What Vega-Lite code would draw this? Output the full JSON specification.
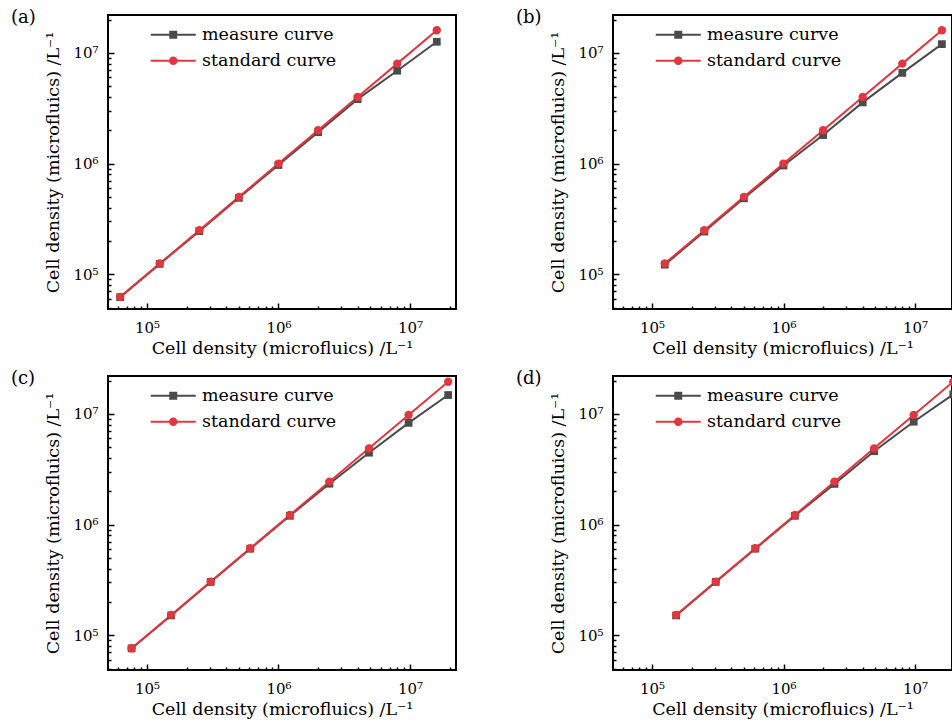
{
  "$schema": "https://vega.github.io/schema/vega-lite/v6.json",
  "padding": {"left": 10, "top": 7, "right": 0, "bottom": 0},
  "background": "white",
  "config": {
    "view": {"stroke": "black", "strokeWidth": 2},
    "font": "DejaVu Serif",
    "axis": {
      "domain": false, "grid": false, "tickColor": "black", "tickWidth": 1.5,
      "labelFont": "DejaVu Serif", "labelFontSize": 15, "labelColor": "black",
      "titleFont": "DejaVu Serif", "titleFontSize": 17.5, "titleFontWeight": "normal", "titleColor": "black",
      "labelOverlap": false, "labelFlush": false
    },
    "axisX": {"labelPadding": 17, "titlePadding": 1},
    "axisY": {"labelPadding": 16, "titlePadding": 10},
    "legend": {
      "orient": "none", "legendX": 45, "legendY": 11, "padding": 0, "title": null,
      "labelFont": "DejaVu Serif", "labelFontSize": 17.5, "labelColor": "black",
      "symbolSize": 100, "symbolStrokeWidth": 2, "symbolOffset": 11.5, "labelOffset": 20, "rowPadding": 7
    },
    "title": {"font": "DejaVu Serif", "fontSize": 18, "fontWeight": "normal", "color": "black", "anchor": "start", "frame": "group", "baseline": "middle", "offset": 0, "dx": -97, "dy": 18}
  },
  "datasets": {
    "a": [
      {"x": 62500, "y": 62000, "series": "measure curve"},
      {"x": 125000, "y": 124000, "series": "measure curve"},
      {"x": 250000, "y": 245000, "series": "measure curve"},
      {"x": 500000, "y": 490000, "series": "measure curve"},
      {"x": 1000000, "y": 970000, "series": "measure curve"},
      {"x": 2000000, "y": 1920000, "series": "measure curve"},
      {"x": 4000000, "y": 3820000, "series": "measure curve"},
      {"x": 8000000, "y": 6900000, "series": "measure curve"},
      {"x": 16000000, "y": 12600000, "series": "measure curve"},
      {"x": 62500, "y": 62500, "series": "standard curve"},
      {"x": 125000, "y": 125000, "series": "standard curve"},
      {"x": 250000, "y": 250000, "series": "standard curve"},
      {"x": 500000, "y": 500000, "series": "standard curve"},
      {"x": 1000000, "y": 1000000, "series": "standard curve"},
      {"x": 2000000, "y": 2000000, "series": "standard curve"},
      {"x": 4000000, "y": 4000000, "series": "standard curve"},
      {"x": 8000000, "y": 8000000, "series": "standard curve"},
      {"x": 16000000, "y": 16000000, "series": "standard curve"}
    ],
    "b": [
      {"x": 125000, "y": 122000, "series": "measure curve"},
      {"x": 250000, "y": 243000, "series": "measure curve"},
      {"x": 500000, "y": 485000, "series": "measure curve"},
      {"x": 1000000, "y": 960000, "series": "measure curve"},
      {"x": 2000000, "y": 1810000, "series": "measure curve"},
      {"x": 4000000, "y": 3570000, "series": "measure curve"},
      {"x": 8000000, "y": 6600000, "series": "measure curve"},
      {"x": 16000000, "y": 12000000, "series": "measure curve"},
      {"x": 125000, "y": 125000, "series": "standard curve"},
      {"x": 250000, "y": 250000, "series": "standard curve"},
      {"x": 500000, "y": 500000, "series": "standard curve"},
      {"x": 1000000, "y": 1000000, "series": "standard curve"},
      {"x": 2000000, "y": 2000000, "series": "standard curve"},
      {"x": 4000000, "y": 4000000, "series": "standard curve"},
      {"x": 8000000, "y": 8000000, "series": "standard curve"},
      {"x": 16000000, "y": 16000000, "series": "standard curve"}
    ],
    "c": [
      {"x": 76300, "y": 76000, "series": "measure curve"},
      {"x": 152600, "y": 151000, "series": "measure curve"},
      {"x": 305200, "y": 303000, "series": "measure curve"},
      {"x": 610400, "y": 605000, "series": "measure curve"},
      {"x": 1220700, "y": 1200000, "series": "measure curve"},
      {"x": 2441400, "y": 2340000, "series": "measure curve"},
      {"x": 4882800, "y": 4460000, "series": "measure curve"},
      {"x": 9765600, "y": 8300000, "series": "measure curve"},
      {"x": 19531000, "y": 14800000, "series": "measure curve"},
      {"x": 76300, "y": 76300, "series": "standard curve"},
      {"x": 152600, "y": 152600, "series": "standard curve"},
      {"x": 305200, "y": 305200, "series": "standard curve"},
      {"x": 610400, "y": 610400, "series": "standard curve"},
      {"x": 1220700, "y": 1220700, "series": "standard curve"},
      {"x": 2441400, "y": 2441400, "series": "standard curve"},
      {"x": 4882800, "y": 4882800, "series": "standard curve"},
      {"x": 9765600, "y": 9765600, "series": "standard curve"},
      {"x": 19531000, "y": 19531000, "series": "standard curve"}
    ],
    "d": [
      {"x": 152600, "y": 151000, "series": "measure curve"},
      {"x": 305200, "y": 303000, "series": "measure curve"},
      {"x": 610400, "y": 606000, "series": "measure curve"},
      {"x": 1220700, "y": 1200000, "series": "measure curve"},
      {"x": 2441400, "y": 2330000, "series": "measure curve"},
      {"x": 4882800, "y": 4600000, "series": "measure curve"},
      {"x": 9765600, "y": 8500000, "series": "measure curve"},
      {"x": 19531000, "y": 15000000, "series": "measure curve"},
      {"x": 152600, "y": 152600, "series": "standard curve"},
      {"x": 305200, "y": 305200, "series": "standard curve"},
      {"x": 610400, "y": 610400, "series": "standard curve"},
      {"x": 1220700, "y": 1220700, "series": "standard curve"},
      {"x": 2441400, "y": 2441400, "series": "standard curve"},
      {"x": 4882800, "y": 4882800, "series": "standard curve"},
      {"x": 9765600, "y": 9765600, "series": "standard curve"},
      {"x": 19531000, "y": 19531000, "series": "standard curve"}
    ]
  },
  "columns": 2,
  "spacing": {"row": 10, "column": 58},
  "resolve": {"scale": {"color": "independent", "x": "independent", "y": "independent"}, "legend": {"color": "independent"}},
  "concat": [
    {
      "title": {"text": "(a)"},
      "width": 348, "height": 294,
      "data": {"name": "a"},
      "encoding": {
        "x": {"field": "x", "type": "quantitative",
          "scale": {"type": "log", "domain": [50500, 22400000], "nice": false},
          "axis": {"title": "Cell density (microfluics) /L⁻¹",
            "values": [60000, 70000, 80000, 90000, 100000, 200000, 300000, 400000, 500000, 600000, 700000, 800000, 900000, 1000000, 2000000, 3000000, 4000000, 5000000, 6000000, 7000000, 8000000, 9000000, 10000000, 20000000],
            "labelExpr": "datum.value == 100000 ? '10⁵' : datum.value == 1000000 ? '10⁶' : datum.value == 10000000 ? '10⁷' : ''",
            "tickSize": {"condition": {"test": "datum.value == 100000 || datum.value == 1000000 || datum.value == 10000000", "value": -6}, "value": -3}}},
        "y": {"field": "y", "type": "quantitative",
          "scale": {"type": "log", "domain": [48500, 22000000], "nice": false},
          "axis": {"title": "Cell density (microfluics) /L⁻¹",
            "values": [50000, 60000, 70000, 80000, 90000, 100000, 200000, 300000, 400000, 500000, 600000, 700000, 800000, 900000, 1000000, 2000000, 3000000, 4000000, 5000000, 6000000, 7000000, 8000000, 9000000, 10000000, 20000000],
            "labelExpr": "datum.value == 100000 ? '10⁵' : datum.value == 1000000 ? '10⁶' : datum.value == 10000000 ? '10⁷' : ''",
            "tickSize": {"condition": {"test": "datum.value == 100000 || datum.value == 1000000 || datum.value == 10000000", "value": -6}, "value": -3}}}
      },
      "layer": [
        {"mark": {"type": "line", "strokeWidth": 2, "clip": true},
          "encoding": {"color": {"field": "series", "type": "nominal",
            "scale": {"domain": ["measure curve", "standard curve"], "range": ["#4b4b4b", "#e2373f"]},
            "legend": {"encode": {"symbols": {"update": {
              "shape": {"signal": "datum.value == 'measure curve' ? 'M-4.5,0H4.5M-0.6,-0.6H0.6V0.6H-0.6Z' : 'M-4.5,0H4.5M0.65,0A0.65,0.65,0,1,1,-0.65,0A0.65,0.65,0,1,1,0.65,0Z'"},
              "fill": {"signal": "datum.value == 'measure curve' ? '#4b4b4b' : '#e2373f'"},
              "stroke": {"signal": "datum.value == 'measure curve' ? '#4b4b4b' : '#e2373f'"},
              "fillOpacity": {"value": 1}, "opacity": {"value": 1}}}}}}}},
        {"transform": [{"filter": "datum.series == 'measure curve'"}],
          "mark": {"type": "point", "shape": "square", "filled": true, "size": 60, "color": "#4b4b4b", "opacity": 1, "clip": true}},
        {"transform": [{"filter": "datum.series == 'standard curve'"}],
          "mark": {"type": "point", "shape": "circle", "filled": true, "size": 70, "color": "#e2373f", "opacity": 1, "clip": true}}
      ]
    },
    {
      "title": {"text": "(b)"},
      "width": 339, "height": 294,
      "data": {"name": "b"},
      "encoding": {
        "x": {"field": "x", "type": "quantitative",
          "scale": {"type": "log", "domain": [50500, 19100000], "nice": false},
          "axis": {"title": "Cell density (microfluics) /L⁻¹",
            "values": [60000, 70000, 80000, 90000, 100000, 200000, 300000, 400000, 500000, 600000, 700000, 800000, 900000, 1000000, 2000000, 3000000, 4000000, 5000000, 6000000, 7000000, 8000000, 9000000, 10000000],
            "labelExpr": "datum.value == 100000 ? '10⁵' : datum.value == 1000000 ? '10⁶' : datum.value == 10000000 ? '10⁷' : ''",
            "tickSize": {"condition": {"test": "datum.value == 100000 || datum.value == 1000000 || datum.value == 10000000", "value": -6}, "value": -3}}},
        "y": {"field": "y", "type": "quantitative",
          "scale": {"type": "log", "domain": [48500, 22000000], "nice": false},
          "axis": {"title": "Cell density (microfluics) /L⁻¹",
            "values": [50000, 60000, 70000, 80000, 90000, 100000, 200000, 300000, 400000, 500000, 600000, 700000, 800000, 900000, 1000000, 2000000, 3000000, 4000000, 5000000, 6000000, 7000000, 8000000, 9000000, 10000000, 20000000],
            "labelExpr": "datum.value == 100000 ? '10⁵' : datum.value == 1000000 ? '10⁶' : datum.value == 10000000 ? '10⁷' : ''",
            "tickSize": {"condition": {"test": "datum.value == 100000 || datum.value == 1000000 || datum.value == 10000000", "value": -6}, "value": -3}}}
      },
      "layer": [
        {"mark": {"type": "line", "strokeWidth": 2, "clip": true},
          "encoding": {"color": {"field": "series", "type": "nominal",
            "scale": {"domain": ["measure curve", "standard curve"], "range": ["#4b4b4b", "#e2373f"]},
            "legend": {"encode": {"symbols": {"update": {
              "shape": {"signal": "datum.value == 'measure curve' ? 'M-4.5,0H4.5M-0.6,-0.6H0.6V0.6H-0.6Z' : 'M-4.5,0H4.5M0.65,0A0.65,0.65,0,1,1,-0.65,0A0.65,0.65,0,1,1,0.65,0Z'"},
              "fill": {"signal": "datum.value == 'measure curve' ? '#4b4b4b' : '#e2373f'"},
              "stroke": {"signal": "datum.value == 'measure curve' ? '#4b4b4b' : '#e2373f'"},
              "fillOpacity": {"value": 1}, "opacity": {"value": 1}}}}}}}},
        {"transform": [{"filter": "datum.series == 'measure curve'"}],
          "mark": {"type": "point", "shape": "square", "filled": true, "size": 60, "color": "#4b4b4b", "opacity": 1, "clip": true}},
        {"transform": [{"filter": "datum.series == 'standard curve'"}],
          "mark": {"type": "point", "shape": "circle", "filled": true, "size": 70, "color": "#e2373f", "opacity": 1, "clip": true}}
      ]
    },
    {
      "title": {"text": "(c)"},
      "width": 348, "height": 294,
      "data": {"name": "c"},
      "encoding": {
        "x": {"field": "x", "type": "quantitative",
          "scale": {"type": "log", "domain": [50500, 22400000], "nice": false},
          "axis": {"title": "Cell density (microfluics) /L⁻¹",
            "values": [60000, 70000, 80000, 90000, 100000, 200000, 300000, 400000, 500000, 600000, 700000, 800000, 900000, 1000000, 2000000, 3000000, 4000000, 5000000, 6000000, 7000000, 8000000, 9000000, 10000000, 20000000],
            "labelExpr": "datum.value == 100000 ? '10⁵' : datum.value == 1000000 ? '10⁶' : datum.value == 10000000 ? '10⁷' : ''",
            "tickSize": {"condition": {"test": "datum.value == 100000 || datum.value == 1000000 || datum.value == 10000000", "value": -6}, "value": -3}}},
        "y": {"field": "y", "type": "quantitative",
          "scale": {"type": "log", "domain": [48500, 22000000], "nice": false},
          "axis": {"title": "Cell density (microfluics) /L⁻¹",
            "values": [50000, 60000, 70000, 80000, 90000, 100000, 200000, 300000, 400000, 500000, 600000, 700000, 800000, 900000, 1000000, 2000000, 3000000, 4000000, 5000000, 6000000, 7000000, 8000000, 9000000, 10000000, 20000000],
            "labelExpr": "datum.value == 100000 ? '10⁵' : datum.value == 1000000 ? '10⁶' : datum.value == 10000000 ? '10⁷' : ''",
            "tickSize": {"condition": {"test": "datum.value == 100000 || datum.value == 1000000 || datum.value == 10000000", "value": -6}, "value": -3}}}
      },
      "layer": [
        {"mark": {"type": "line", "strokeWidth": 2, "clip": true},
          "encoding": {"color": {"field": "series", "type": "nominal",
            "scale": {"domain": ["measure curve", "standard curve"], "range": ["#4b4b4b", "#e2373f"]},
            "legend": {"encode": {"symbols": {"update": {
              "shape": {"signal": "datum.value == 'measure curve' ? 'M-4.5,0H4.5M-0.6,-0.6H0.6V0.6H-0.6Z' : 'M-4.5,0H4.5M0.65,0A0.65,0.65,0,1,1,-0.65,0A0.65,0.65,0,1,1,0.65,0Z'"},
              "fill": {"signal": "datum.value == 'measure curve' ? '#4b4b4b' : '#e2373f'"},
              "stroke": {"signal": "datum.value == 'measure curve' ? '#4b4b4b' : '#e2373f'"},
              "fillOpacity": {"value": 1}, "opacity": {"value": 1}}}}}}}},
        {"transform": [{"filter": "datum.series == 'measure curve'"}],
          "mark": {"type": "point", "shape": "square", "filled": true, "size": 60, "color": "#4b4b4b", "opacity": 1, "clip": true}},
        {"transform": [{"filter": "datum.series == 'standard curve'"}],
          "mark": {"type": "point", "shape": "circle", "filled": true, "size": 70, "color": "#e2373f", "opacity": 1, "clip": true}}
      ]
    },
    {
      "title": {"text": "(d)"},
      "width": 339, "height": 294,
      "data": {"name": "d"},
      "encoding": {
        "x": {"field": "x", "type": "quantitative",
          "scale": {"type": "log", "domain": [50500, 19100000], "nice": false},
          "axis": {"title": "Cell density (microfluics) /L⁻¹",
            "values": [60000, 70000, 80000, 90000, 100000, 200000, 300000, 400000, 500000, 600000, 700000, 800000, 900000, 1000000, 2000000, 3000000, 4000000, 5000000, 6000000, 7000000, 8000000, 9000000, 10000000],
            "labelExpr": "datum.value == 100000 ? '10⁵' : datum.value == 1000000 ? '10⁶' : datum.value == 10000000 ? '10⁷' : ''",
            "tickSize": {"condition": {"test": "datum.value == 100000 || datum.value == 1000000 || datum.value == 10000000", "value": -6}, "value": -3}}},
        "y": {"field": "y", "type": "quantitative",
          "scale": {"type": "log", "domain": [48500, 22000000], "nice": false},
          "axis": {"title": "Cell density (microfluics) /L⁻¹",
            "values": [50000, 60000, 70000, 80000, 90000, 100000, 200000, 300000, 400000, 500000, 600000, 700000, 800000, 900000, 1000000, 2000000, 3000000, 4000000, 5000000, 6000000, 7000000, 8000000, 9000000, 10000000, 20000000],
            "labelExpr": "datum.value == 100000 ? '10⁵' : datum.value == 1000000 ? '10⁶' : datum.value == 10000000 ? '10⁷' : ''",
            "tickSize": {"condition": {"test": "datum.value == 100000 || datum.value == 1000000 || datum.value == 10000000", "value": -6}, "value": -3}}}
      },
      "layer": [
        {"mark": {"type": "line", "strokeWidth": 2, "clip": true},
          "encoding": {"color": {"field": "series", "type": "nominal",
            "scale": {"domain": ["measure curve", "standard curve"], "range": ["#4b4b4b", "#e2373f"]},
            "legend": {"encode": {"symbols": {"update": {
              "shape": {"signal": "datum.value == 'measure curve' ? 'M-4.5,0H4.5M-0.6,-0.6H0.6V0.6H-0.6Z' : 'M-4.5,0H4.5M0.65,0A0.65,0.65,0,1,1,-0.65,0A0.65,0.65,0,1,1,0.65,0Z'"},
              "fill": {"signal": "datum.value == 'measure curve' ? '#4b4b4b' : '#e2373f'"},
              "stroke": {"signal": "datum.value == 'measure curve' ? '#4b4b4b' : '#e2373f'"},
              "fillOpacity": {"value": 1}, "opacity": {"value": 1}}}}}}}},
        {"transform": [{"filter": "datum.series == 'measure curve'"}],
          "mark": {"type": "point", "shape": "square", "filled": true, "size": 60, "color": "#4b4b4b", "opacity": 1, "clip": true}},
        {"transform": [{"filter": "datum.series == 'standard curve'"}],
          "mark": {"type": "point", "shape": "circle", "filled": true, "size": 70, "color": "#e2373f", "opacity": 1, "clip": true}}
      ]
    }
  ]
}
